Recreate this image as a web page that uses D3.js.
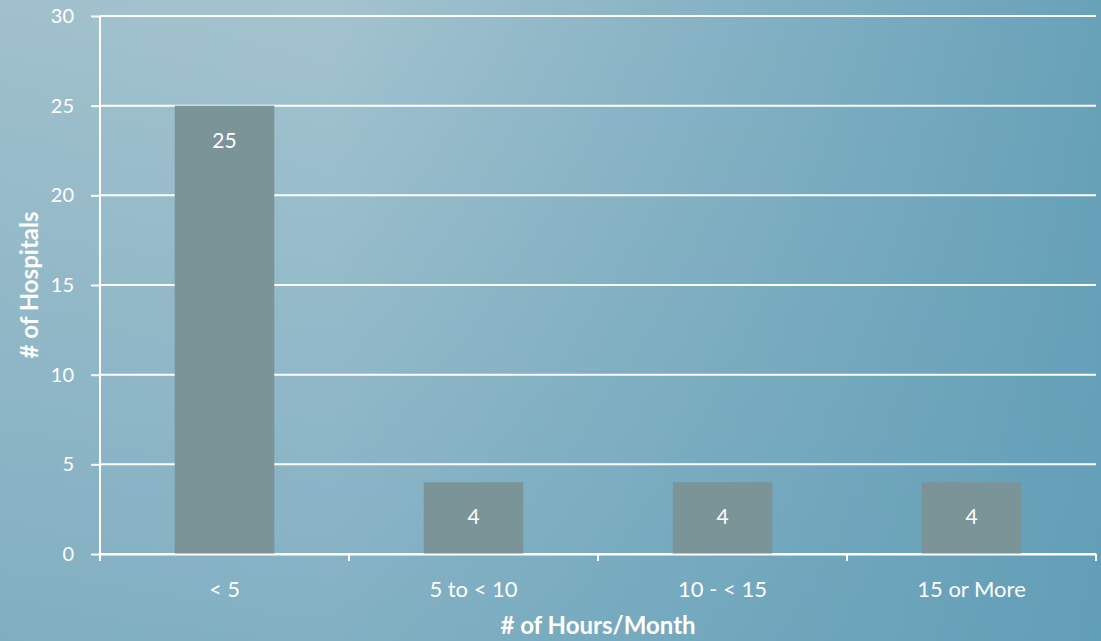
<!DOCTYPE html>
<html><head><meta charset="utf-8">
<script src="https://cdn.jsdelivr.net/npm/d3@7"></script>
<style>html,body{margin:0;padding:0;overflow:hidden;}svg{display:block;}</style>
</head><body>
<svg id="c" width="1101" height="641"></svg>
<script>
const categories = ["< 5", "5 to < 10", "10 - < 15", "15 or More"];
const values = [25, 4, 4, 4];
const yTicks = [0, 5, 10, 15, 20, 25, 30];
const xTitle = "# of Hours/Month";
const yTitle = "# of Hospitals";

const W = 1101, H = 641;
const m = {left: 100, right: 5, top: 16, bottom: 87};
const svg = d3.select("#c");
const defs = svg.append("defs");
const g1 = defs.append("linearGradient").attr("id","bgH").attr("x1",0).attr("y1",0).attr("x2",1).attr("y2",0);
g1.append("stop").attr("offset","0").attr("stop-color","#a0c0cc");
g1.append("stop").attr("offset","0.3").attr("stop-color","#a4c3cf");
g1.append("stop").attr("offset","1").attr("stop-color","#68a2b9");
const g2 = defs.append("linearGradient").attr("id","bgV").attr("x1",0).attr("y1",0).attr("x2",0).attr("y2",1);
g2.append("stop").attr("offset","0").attr("stop-color","#5a9ab5").attr("stop-opacity",0);
g2.append("stop").attr("offset","1").attr("stop-color","#5a9ab5").attr("stop-opacity",0.45);
svg.append("rect").attr("width",W).attr("height",H).attr("fill","url(#bgH)");
svg.append("rect").attr("width",W).attr("height",H).attr("fill","url(#bgV)");

const font = "Lato, 'Open Sans', sans-serif";
const x = d3.scaleBand().domain(categories).range([m.left, W - m.right]).paddingInner(0).paddingOuter(0);
const y = d3.scaleLinear().domain([0, 30]).range([H - m.bottom, m.top]);

// gridlines
svg.append("g").selectAll("line").data(yTicks).join("line")
  .attr("x1", m.left).attr("x2", W - m.right)
  .attr("y1", d => y(d)).attr("y2", d => y(d))
  .attr("stroke", "#fff").attr("stroke-width", 2);

// bars
const bw = x.bandwidth() * 0.4;
svg.append("g").selectAll("rect").data(values).join("rect")
  .attr("x", (d,i) => x(categories[i]) + (x.bandwidth()-bw)/2)
  .attr("width", bw)
  .attr("y", d => y(d)).attr("height", d => y(0) - y(d))
  .attr("fill", "#7a9498");

// y axis
const ya = svg.append("g").attr("transform", `translate(${m.left},0)`)
  .call(d3.axisLeft(y).tickValues(yTicks).tickSize(9).tickPadding(17));
ya.selectAll("line").attr("stroke","#fff").attr("stroke-width",2);
ya.select(".domain").attr("stroke","#fff").attr("stroke-width",2).attr("d", `M0,${y(0)+7}V${y(30)}`);
ya.selectAll("text").attr("fill","#fff").attr("font-size",20).attr("font-family",font);

// x axis
const xa = svg.append("g").attr("transform", `translate(0,${y(0)})`)
  .call(d3.axisBottom(x).tickSize(0));
xa.select(".domain").attr("stroke","#fff").attr("stroke-width",2);
xa.selectAll("text").attr("fill","#fff").attr("font-size",22).attr("font-family",font)
  .attr("y", 43).attr("dy", 0);
const bounds = categories.map(c => x(c)).concat([x(categories[categories.length-1]) + x.bandwidth()]);
xa.append("g").selectAll("line").data(bounds).join("line")
  .attr("x1", d=>d).attr("x2", d=>d).attr("y1",0).attr("y2",7)
  .attr("stroke","#fff").attr("stroke-width",2);

// value labels
svg.append("g").selectAll("text").data(values).join("text")
  .attr("x", (d,i) => x(categories[i]) + x.bandwidth()/2)
  .attr("y", d => y(d) + 42)
  .attr("text-anchor","middle").attr("fill","#fff")
  .attr("font-size",21).attr("font-family",font)
  .text(d => d);

// titles
svg.append("text").attr("x", (m.left + W - m.right)/2).attr("y", 634)
  .attr("text-anchor","middle").attr("fill","#fff").attr("font-weight","bold")
  .attr("font-size",24).attr("font-family",font).text(xTitle);
svg.append("text").attr("transform", `translate(38,${(y(0)+y(30))/2}) rotate(-90)`)
  .attr("text-anchor","middle").attr("fill","#fff").attr("font-weight","bold")
  .attr("font-size",24).attr("font-family",font).text(yTitle);
</script>
</body></html>
